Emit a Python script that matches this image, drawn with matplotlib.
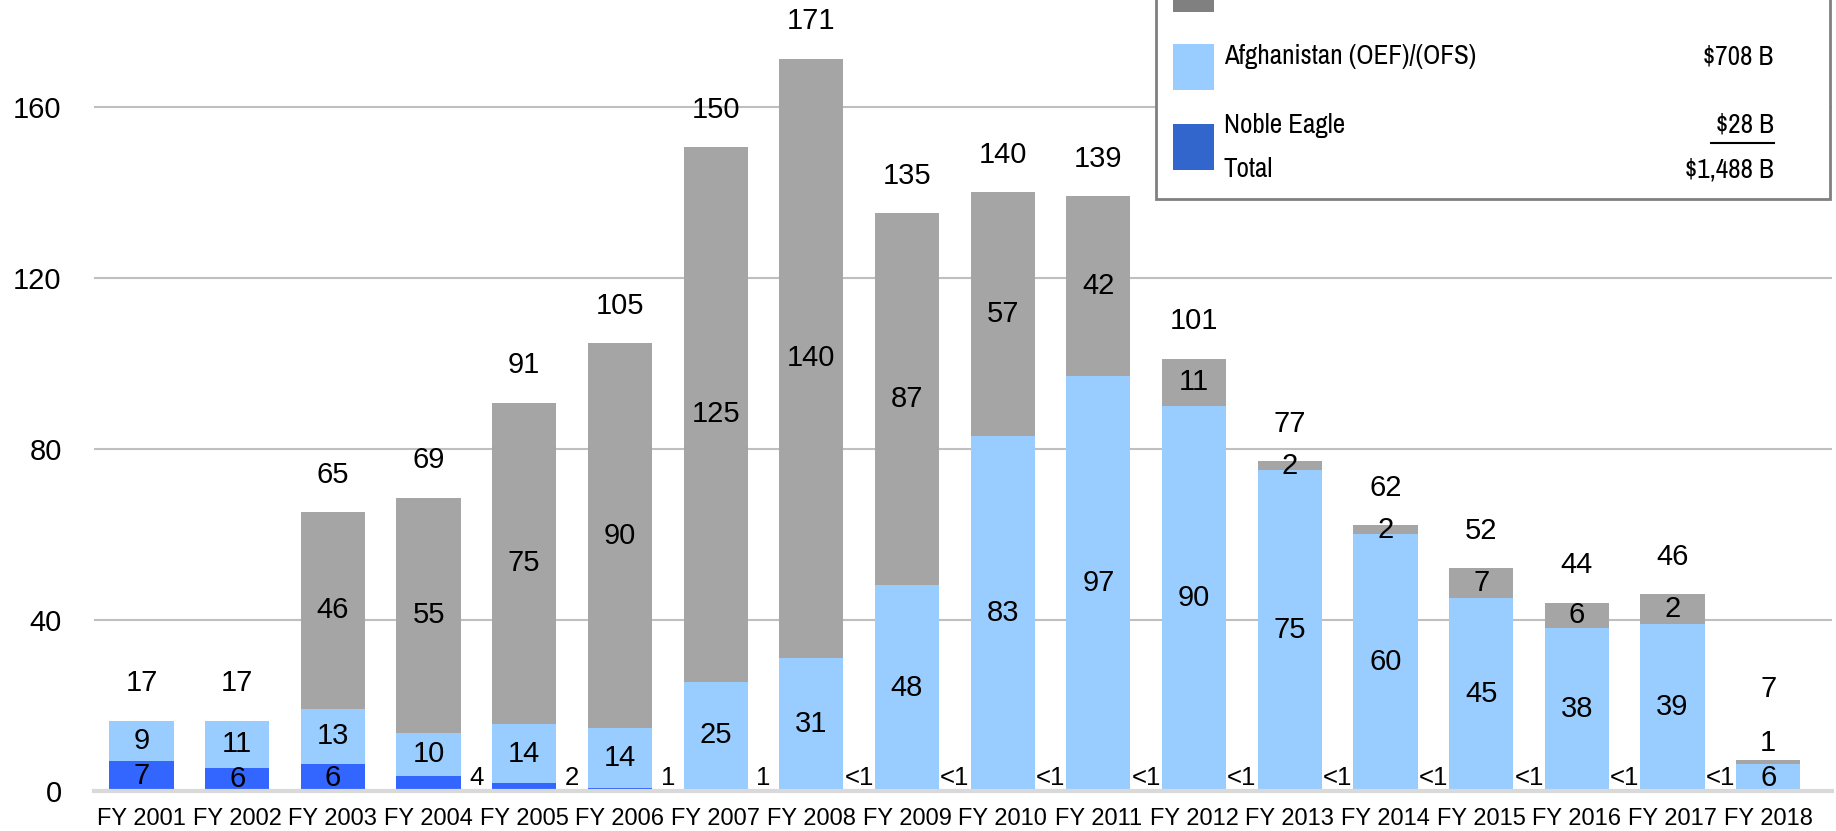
import matplotlib.pyplot as plt
from matplotlib.patches import Rectangle

years = ["FY 2001", "FY 2002", "FY 2003", "FY 2004", "FY 2005", "FY 2006",
         "FY 2007", "FY 2008", "FY 2009", "FY 2010", "FY 2011", "FY 2012",
         "FY 2013", "FY 2014", "FY 2015", "FY 2016", "FY 2017", "FY 2018"]

noble_eagle = [7, 5.5, 6.3, 3.6, 1.8, 0.7, 0.6, 0.2, 0.1, 0.1, 0.1, 0.1,
               0.1, 0.1, 0.1, 0.1, 0.1, 0]
afghanistan = [9.5, 11, 13, 10, 14, 14, 25, 31, 48, 83, 97, 90,
               75, 60, 45, 38, 39, 6.4]
iraq = [0, 0, 46, 55, 75, 90, 125, 140, 87, 57, 42, 11,
        2, 2, 7, 6, 7, 0.8]

noble_labels = ["7", "6", "6", "4", "2", "1", "1", "<1", "<1", "<1", "<1", "<1",
                "<1", "<1", "<1", "<1", "<1", ""]
afghan_labels = ["9", "11", "13", "10", "14", "14", "25", "31", "48", "83", "97", "90",
                 "75", "60", "45", "38", "39", "6"]
iraq_labels = ["", "", "46", "55", "75", "90", "125", "140", "87", "57", "42", "11",
               "2", "2", "7", "6", "2", "1"]
totals = [17, 17, 65, 69, 91, 105, 150, 171, 135, 140, 139, 101,
          77, 62, 52, 44, 46, 7]

legend_names = ["Iraq (OIF)/(OND)/Inherent Resolve (OIR)", "Afghanistan (OEF)/(OFS)", "Noble Eagle"]
legend_amounts = ["$752 B", "$708 B", "$28 B"]
legend_total = "$1,488 B"

GRAY = "#A5A5A5"
LIGHT = "#99CCFF"
DARK = "#3366FF"

plt.rcParams['font.family'] = ['Liberation Sans', 'DejaVu Sans']

fig = plt.figure(figsize=(18.36, 8.31), dpi=100)
ax = fig.add_axes([0.051, 0.0479, 0.947, 0.952])

x = list(range(len(years)))
w = 0.67
ax.bar(x, noble_eagle, w, color=DARK, zorder=3)
ax.bar(x, afghanistan, w, bottom=noble_eagle, color=LIGHT, zorder=3)
bot2 = [a + b for a, b in zip(noble_eagle, afghanistan)]
ax.bar(x, iraq, w, bottom=bot2, color=GRAY, zorder=3)

for i in x:
    ne = noble_eagle[i]
    if ne >= 5:
        ax.text(i, ne / 2, noble_labels[i], ha="center", va="center", fontsize=21)
    elif noble_labels[i]:
        ax.text(i + 0.5, 3, noble_labels[i], ha="center", va="center", fontsize=18.5)
    ax.text(i, ne + afghanistan[i] / 2, afghan_labels[i], ha="center", va="center", fontsize=21)
    top = bot2[i] + iraq[i]
    if iraq_labels[i]:
        if iraq[i] >= 1.5:
            ax.text(i, bot2[i] + iraq[i] / 2, iraq_labels[i], ha="center", va="center", fontsize=21)
            ax.text(i, top + 8.7, str(totals[i]), ha="center", va="center", fontsize=21)
        else:
            # thin segment: label sits above the bar, total above that
            ax.text(i, top + 4.1, iraq_labels[i], ha="center", va="center", fontsize=21)
            ax.text(i, top + 16.8, str(totals[i]), ha="center", va="center", fontsize=21)
    else:
        ax.text(i, top + 8.7, str(totals[i]), ha="center", va="center", fontsize=21)

ax.set_xlim(-0.5, 17.67)
ax.set_ylim(0, 184.9)
ax.set_yticks([0, 40, 80, 120, 160])
ax.set_xticks(x)
ax.set_xticklabels(years, fontsize=17)
ax.tick_params(axis="y", labelsize=21, length=0, pad=23)
ax.tick_params(axis="x", length=0, pad=12)
ax.grid(axis="y", color="#BFBFBF", lw=1.5, zorder=0)
for s in ["top", "right", "left"]:
    ax.spines[s].set_visible(False)
ax.spines["bottom"].set_color("#D9D9D9")
ax.spines["bottom"].set_linewidth(3)
ax.spines["bottom"].set_zorder(4)

# legend box, partly above the top edge
fig.patches.append(Rectangle((0.6295, 0.7606), 0.3673, 0.4, transform=fig.transFigure,
                             fill=True, facecolor="white", edgecolor="#808080", lw=2, zorder=5))
patch_cols = ["#808080", LIGHT, "#3366CC"]
patch_y = [0.986, 0.8915, 0.796]
text_y = [1.0165, 0.932, 0.849]
lfont = dict(family=['Liberation Sans Narrow', 'Archivo Narrow', 'Liberation Sans'],
             fontweight="bold", fontsize=19.5)
for c, py, ty, name, amt in zip(patch_cols, patch_y, text_y, legend_names, legend_amounts):
    fig.patches.append(Rectangle((0.639, py), 0.022, 0.055, transform=fig.transFigure,
                                 facecolor=c, edgecolor="none", zorder=6))
    fig.text(0.6665, ty, name, ha="left", va="center", zorder=7, **lfont)
    fig.text(0.966, ty, amt, ha="right", va="center", zorder=7, **lfont)
fig.lines.append(plt.Line2D([0.932, 0.966], [0.828, 0.828], transform=fig.transFigure,
                            color="black", lw=1.5, zorder=7))
fig.text(0.6665, 0.796, "Total", ha="left", va="center", zorder=7, **lfont)
fig.text(0.966, 0.796, legend_total, ha="right", va="center", zorder=7, **lfont)

fig.savefig("out.png", dpi=100)
